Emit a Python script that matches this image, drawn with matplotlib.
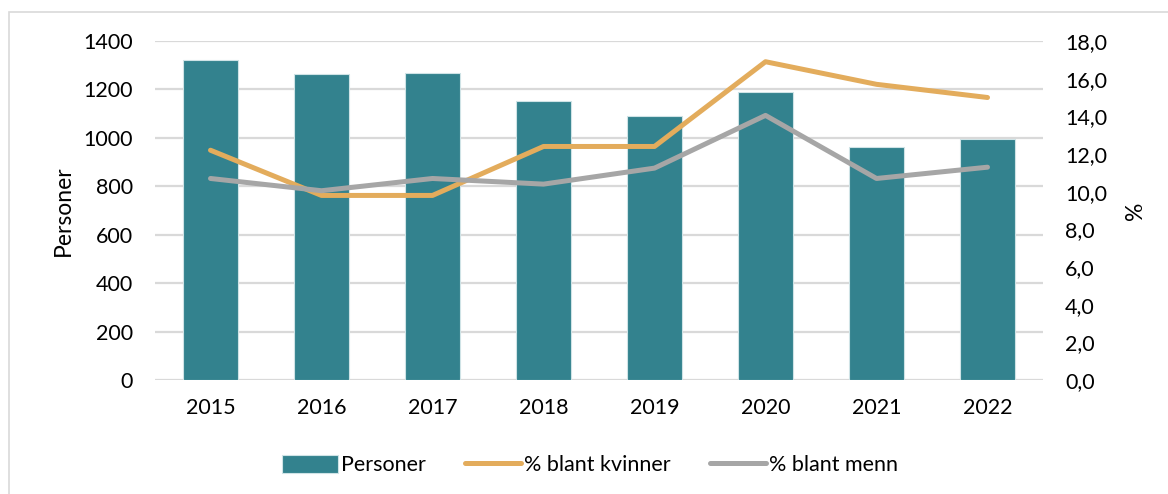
import matplotlib.pyplot as plt
from matplotlib.patches import Rectangle
from matplotlib.ticker import FuncFormatter, MultipleLocator

plt.rcParams['font.family'] = ['Lato', 'DejaVu Sans']

# data
years = ['2015', '2016', '2017', '2018', '2019', '2020', '2021', '2022']
personer = [1320, 1262, 1266, 1153, 1090, 1189, 963, 995]
pct_kvinner = [12.2, 9.8, 9.8, 12.4, 12.4, 16.9, 15.7, 15.0]
pct_menn = [10.7, 10.05, 10.7, 10.4, 11.25, 14.05, 10.7, 11.3]

teal = '#33828E'
orange = '#E3AC5C'
grey = '#A6A6A6'
gridc = '#D9D9D9'

fig = plt.figure(figsize=(11.68, 4.94), dpi=100)
ax = fig.add_axes([155 / 1168, 1 - 380 / 494, (1043 - 155) / 1168, 339 / 494])
ax2 = ax.twinx()

x = range(len(years))
ax.bar(x, personer, width=0.5, color=teal, edgecolor='#CFE3E6', linewidth=0.8,
       label='Personer', zorder=2)
ax2.plot(x, pct_kvinner, color=orange, lw=3.6, solid_capstyle='round',
         label='% blant kvinner')
ax2.plot(x, pct_menn, color=grey, lw=3.6, solid_capstyle='round',
         label='% blant menn')

ax.set_xlim(-0.5, len(years) - 0.5)
ax.set_ylim(0, 1400)
ax2.set_ylim(0, 18)
ax.yaxis.set_major_locator(MultipleLocator(200))
ax2.yaxis.set_major_locator(MultipleLocator(2))
ax2.yaxis.set_major_formatter(FuncFormatter(lambda v, p: f'{v:.1f}'.replace('.', ',')))

ax.set_xticks(list(x))
ax.set_xticklabels(years)
ax.grid(axis='y', color=gridc, lw=1.6)
ax.set_axisbelow(True)

for a in (ax, ax2):
    for s in a.spines.values():
        s.set_visible(False)
    a.tick_params(length=0, labelsize=15.5)
ax.tick_params(axis='y', pad=16)
ax2.tick_params(axis='y', pad=16)
ax.tick_params(axis='x', pad=13)

ax.set_ylabel('Personer', fontsize=16.5, labelpad=7)
ax2.set_ylabel('%', fontsize=16.5, labelpad=13)

h1, l1 = ax.get_legend_handles_labels()
h2, l2 = ax2.get_legend_handles_labels()
fig.legend(h1 + h2, l1 + l2, loc='center', bbox_to_anchor=(590 / 1168, 1 - 465 / 494),
           ncol=3, frameon=False, fontsize=15.5, handlelength=2.6, handleheight=0.9,
           handletextpad=0.15, columnspacing=1.8)

fig.add_artist(Rectangle((9 / 1168, -0.1), 1.2, 1 - 12 / 494 + 0.1, fill=False,
                         ec=gridc, lw=1.2, transform=fig.transFigure))

fig.savefig('out.png', dpi=100)
